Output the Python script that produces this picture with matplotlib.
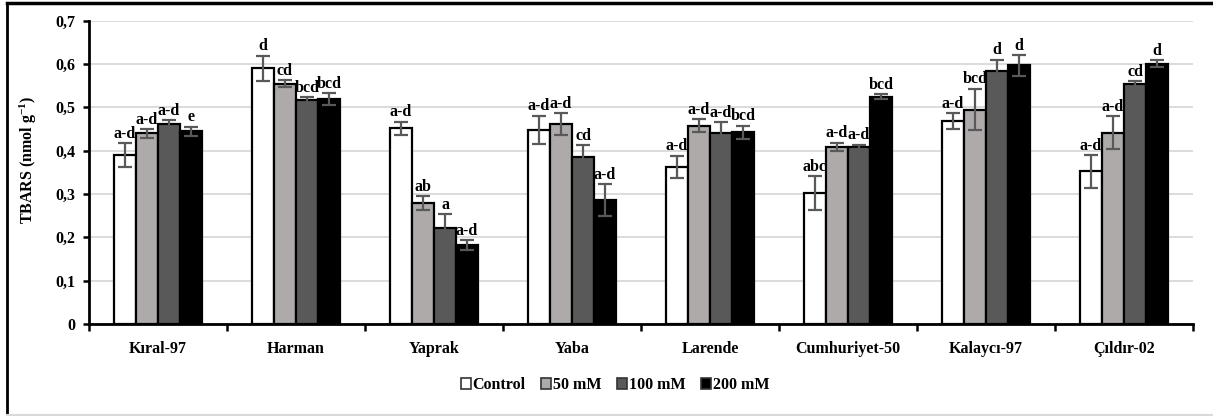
import matplotlib
matplotlib.use("Agg")
import matplotlib.pyplot as plt
import numpy as np
from matplotlib.lines import Line2D

# Cultivars and treatments
cultivars = ["Kıral-97", "Harman", "Yaprak", "Yaba", "Larende",
             "Cumhuriyet-50", "Kalaycı-97", "Çıldır-02"]
treatments = ["Control", "50 mM", "100 mM", "200 mM"]

# TBARS means (nmol g-1) per treatment, one value per cultivar
control = [0.390, 0.590, 0.452, 0.448, 0.363, 0.302, 0.469, 0.352]
mm50 = [0.440, 0.555, 0.279, 0.462, 0.457, 0.409, 0.495, 0.441]
mm100 = [0.461, 0.517, 0.222, 0.385, 0.441, 0.409, 0.584, 0.554]
mm200 = [0.445, 0.519, 0.182, 0.286, 0.443, 0.525, 0.597, 0.601]

# Standard errors
err_control = [0.027, 0.029, 0.015, 0.033, 0.025, 0.039, 0.018, 0.037]
err_50 = [0.010, 0.007, 0.016, 0.025, 0.015, 0.009, 0.048, 0.038]
err_100 = [0.010, 0.006, 0.032, 0.027, 0.025, 0.005, 0.026, 0.007]
err_200 = [0.010, 0.013, 0.012, 0.036, 0.015, 0.006, 0.024, 0.008]

# Significance letters
let_control = ["a-d", "d", "a-d", "a-d", "a-d", "abc", "a-d", "a-d"]
let_50 = ["a-d", "cd", "ab", "a-d", "a-d", "a-d", "bcd", "a-d"]
let_100 = ["a-d", "bcd", "a", "cd", "a-d", "a-d", "d", "cd"]
let_200 = ["e", "bcd", "a-d", "a-d", "bcd", "bcd", "d", "d"]

y_ticks = [0, 0.1, 0.2, 0.3, 0.4, 0.5, 0.6, 0.7]
y_ticklabels = ["0", "0,1", "0,2", "0,3", "0,4", "0,5", "0,6", "0,7"]

plt.rcParams["font.family"] = ["Liberation Serif", "DejaVu Serif"]
plt.rcParams["font.weight"] = "bold"
plt.rcParams["mathtext.fontset"] = "custom"
plt.rcParams["mathtext.rm"] = "Liberation Serif:bold"
plt.rcParams["mathtext.it"] = "Liberation Serif:bold"
plt.rcParams["mathtext.bf"] = "Liberation Serif:bold"
plt.rcParams["mathtext.default"] = "rm"

fig = plt.figure(figsize=(12.13, 4.16), dpi=100)
ax = fig.add_axes([89 / 1213, 1 - 324 / 416, 1104 / 1213, (324 - 20.7) / 416])

series = [control, mm50, mm100, mm200]
errors = [err_control, err_50, err_100, err_200]
letters = [let_control, let_50, let_100, let_200]
colors = ["#ffffff", "#aeaaaa", "#595959", "#000000"]

x = np.arange(len(cultivars))
width = 0.16
offsets = (np.arange(4) - 1.5) * width

for i in range(4):
    ax.bar(x + offsets[i], series[i], width, color=colors[i], edgecolor="black",
           linewidth=1.6, zorder=3, label=treatments[i])
    ax.errorbar(x + offsets[i], series[i], yerr=errors[i], fmt="none",
                ecolor="#595959", elinewidth=1.6, capsize=5, capthick=1.6, zorder=4)
    for xi, v, e, t in zip(x + offsets[i], series[i], errors[i], letters[i]):
        ax.annotate(t, (xi, v + e), xytext=(0, 1), textcoords="offset points",
                    ha="center", va="bottom", fontsize=11.5, fontweight="bold",
                    zorder=5)

ax.set_xlim(-0.5, len(cultivars) - 0.5)
ax.set_ylim(0, 0.7)
ax.set_yticks(y_ticks)
ax.set_yticklabels(y_ticklabels, fontsize=11.5, fontweight="bold")
ax.set_xticks(x)
ax.set_xticklabels(cultivars, fontsize=11.5, fontweight="bold")
ax.set_xticks(np.arange(len(cultivars) + 1) - 0.5, minor=True)
ax.tick_params(axis="x", which="major", length=0, pad=12)
ax.tick_params(axis="x", which="minor", length=5, width=1.8, direction="out")
ax.tick_params(axis="y", length=4, width=1.8, direction="out", pad=6)

ax.yaxis.grid(True, color="#d9d9d9", linewidth=1.3, zorder=0)
ax.set_axisbelow(True)
for s in ["top", "right"]:
    ax.spines[s].set_visible(False)
for s in ["left", "bottom"]:
    ax.spines[s].set_linewidth(2)

ax.set_ylabel(r"TBARS (nmol g$^{\mathrm{-1}}$)", fontsize=11.5, fontweight="bold")
ax.yaxis.set_label_coords(-0.045, 0.54)

leg = ax.legend(loc="center", bbox_to_anchor=(615 / 1213, 1 - 385 / 416),
                bbox_transform=fig.transFigure, ncol=4, frameon=False,
                handlelength=0.62, handleheight=0.62, handletextpad=0.1,
                columnspacing=1.0, prop={"size": 11.5, "weight": "bold"})
for h in leg.legend_handles:
    h.set_linewidth(1.2)
    h.set_edgecolor("#333333")

# Outer frame
fig.add_artist(Line2D([7 / 1213, 1], [1 - 3 / 416, 1 - 3 / 416], color="black",
                      linewidth=2.5, transform=fig.transFigure))
fig.add_artist(Line2D([7 / 1213, 7 / 1213], [1 - 3 / 416, 1 / 416], color="black",
                      linewidth=2, transform=fig.transFigure))
fig.add_artist(Line2D([7 / 1213, 1], [1 / 416, 1 / 416], color="#d9d9d9",
                      linewidth=1.5, transform=fig.transFigure))

fig.savefig("out.png", dpi=100)
